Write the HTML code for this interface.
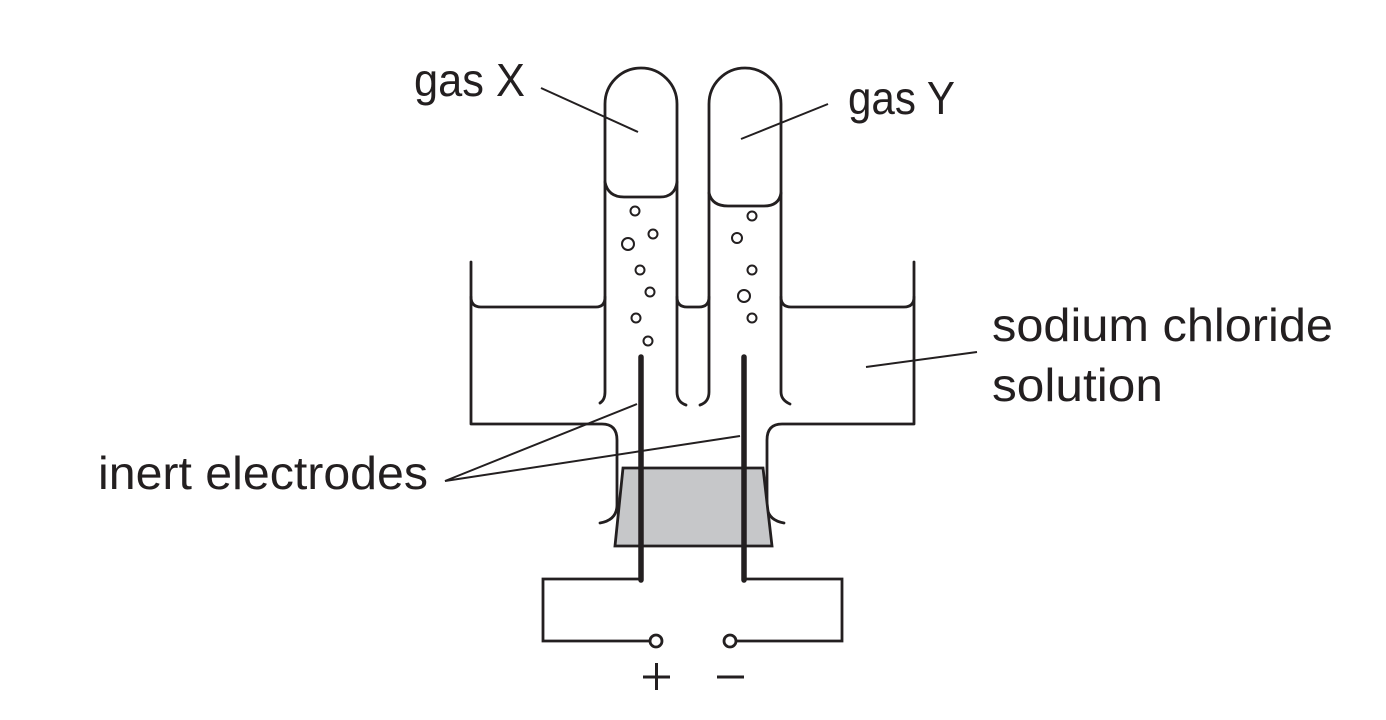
<!DOCTYPE html>
<html><head><meta charset="utf-8"><style>html,body{margin:0;padding:0;background:#fff}svg{display:block}</style></head>
<body>
<svg width="1386" height="720" viewBox="0 0 1386 720" xmlns="http://www.w3.org/2000/svg">
<g fill="none" stroke="#231f20" stroke-width="2.8" stroke-linecap="round" stroke-linejoin="round">
<path d="M600,403 Q605,400 605,392 L605,104 A36,36 0 0 1 677,104 L677,392 Q677,402 686,405"/>
<path d="M605,182 Q608,197 624,197 L660,197 Q675,197 677,182"/>
<path d="M700,405 Q709,402 709,392 L709,104 A36,36 0 0 1 781,104 L781,392 Q781,400 790,404"/>
<path d="M709,193 Q712,206 728,206 L764,206 Q779,206 781,193"/>
<path d="M471,297 Q471,307 481,307 L596,307 Q605,307 605,297"/>
<path d="M677,297 Q677,307 687,307 L699,307 Q709,307 709,297"/>
<path d="M781,297 Q781,307 791,307 L904,307 Q914,307 914,297"/>
<path d="M471,262 L471,424 L602,424 Q617,424 617,440 L617,505 Q617,520 600,523"/>
<path d="M914,262 L914,424 L782,424 Q767,424 767,440 L767,505 Q767,520 784,523"/>
</g>
<polygon points="623,468 763,468 772,546 615,546" fill="#c6c7c9" stroke="#231f20" stroke-width="2.8"/>
<g fill="none" stroke="#231f20" stroke-width="2.8">
<path d="M641,579 L543,579 L543,641 L650,641"/>
<path d="M744,579 L842,579 L842,641 L736,641"/>
<circle cx="656" cy="641" r="6" fill="#fff"/>
<circle cx="730" cy="641" r="6" fill="#fff"/>
</g>
<g stroke="#231f20" stroke-width="5.5" stroke-linecap="round">
<line x1="641" y1="357" x2="641" y2="580"/>
<line x1="744" y1="357" x2="744" y2="580"/>
</g>
<g fill="#fff" stroke="#231f20" stroke-width="2">
<circle cx="635" cy="211" r="4.5"/><circle cx="653" cy="234" r="4.5"/><circle cx="628" cy="244" r="6"/>
<circle cx="640" cy="270" r="4.5"/><circle cx="650" cy="292" r="4.5"/><circle cx="636" cy="318" r="4.5"/><circle cx="648" cy="341" r="4.5"/>
<circle cx="752" cy="216" r="4.5"/><circle cx="737" cy="238" r="5"/><circle cx="752" cy="270" r="4.5"/>
<circle cx="744" cy="296" r="6"/><circle cx="752" cy="318" r="4.5"/>
</g>
<g stroke="#231f20" stroke-width="2" fill="none">
<line x1="541" y1="88" x2="638" y2="132"/>
<line x1="828" y1="104" x2="741" y2="139"/>
<line x1="866" y1="367" x2="977" y2="352"/>
<path d="M637,404 L445,481 L740,436"/>
</g>
<g font-family="Liberation Sans, sans-serif" font-size="46" fill="#231f20">
<text x="414" y="96" textLength="111" lengthAdjust="spacingAndGlyphs">gas X</text>
<text x="848" y="114" textLength="107" lengthAdjust="spacingAndGlyphs">gas Y</text>
<text x="992" y="341" textLength="341" lengthAdjust="spacingAndGlyphs">sodium chloride</text>
<text x="992" y="401" textLength="171" lengthAdjust="spacingAndGlyphs">solution</text>
<text x="98" y="489" textLength="330" lengthAdjust="spacingAndGlyphs">inert electrodes</text>
</g>
<g stroke="#231f20" stroke-width="3">
<line x1="643" y1="677" x2="670" y2="677"/><line x1="656.5" y1="663" x2="656.5" y2="690"/>
<line x1="717" y1="677" x2="744" y2="677"/>
</g>
</svg>
</body></html>
